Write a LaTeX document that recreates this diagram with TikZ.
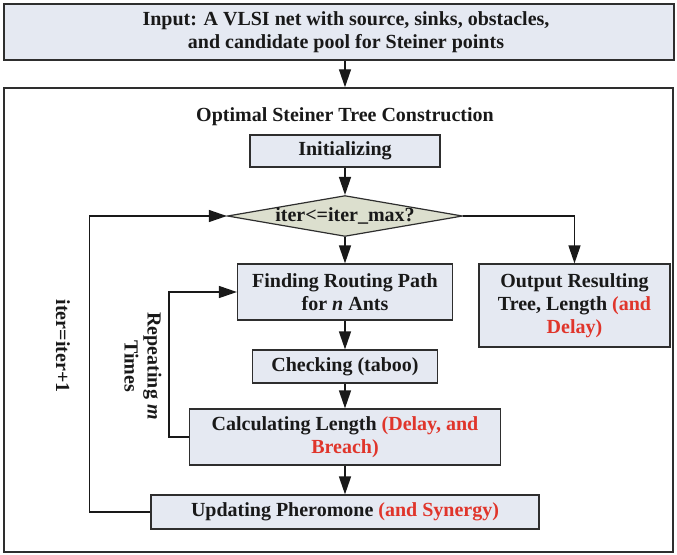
\documentclass[tikz,border=0pt]{standalone}
\usepackage{fontspec}
\setmainfont{Liberation Serif}
\usetikzlibrary{arrows.meta,shapes.geometric}
\definecolor{boxfill}{HTML}{E5E9F2}
\definecolor{decfill}{HTML}{DCDFCE}
\definecolor{redtext}{HTML}{E0352B}
\definecolor{edge}{HTML}{2E2E2E}
\newcommand{\extra}[1]{\textcolor{redtext}{#1}}

\begin{document}
\begin{tikzpicture}[x=0.5pt,y=-0.5pt,
  every node/.style={font=\fontsize{10}{11.5}\selectfont\bfseries, text=black!90},
  box/.style={draw=edge, line width=0.6pt, fill=boxfill, align=center, inner sep=0pt},
  decision/.style={diamond, draw=edge, line width=0.6pt, fill=decfill, aspect=5.75, inner sep=0pt},
  arrow/.style={draw=black!90, line width=0.7pt, -{Triangle[length=9pt,width=6pt]}}]
\useasboundingbox (0,0) rectangle (677,554);
% outer parts
\node[box, line width=0.75pt, minimum width=335pt, minimum height=28pt] (input) at (339,32)
  {\hspace*{7pt}Input: A VLSI net with source, sinks, obstacles,\\\hspace*{7pt}and candidate pool for Steiner points};
\node[draw=edge, line width=0.75pt, minimum width=334.5pt, minimum height=232pt] (frame) at (338.5,320) {};
\node (title) at (345,117) {Optimal Steiner Tree Construction};
% main flow
\node[box, minimum width=95pt, minimum height=16pt] (init) at (345,151) {Initializing};
\node[decision, minimum width=115pt, minimum height=20pt] (cond) at (345,216) {iter<=iter\_max?};
\node[box, minimum width=107.5pt, minimum height=28pt] (route) at (345,292) {Finding Routing Path\\for \textit{n} Ants};
\node[box, minimum width=95.5pt, minimum height=41.5pt] (result) at (574.5,305.5)
  {Output Resulting\\Tree, Length \extra{(and}\\\extra{Delay)}};
\node[box, minimum width=92.5pt, minimum height=16.5pt] (check) at (345,366.5) {Checking (taboo)};
\node[box, minimum width=155.5pt, minimum height=28pt] (calc) at (345,437)
  {Calculating Length \extra{(Delay, and}\\\extra{Breach)}};
\node[box, minimum width=194pt, minimum height=17pt] (update) at (345,512)
  {Updating Pheromone \extra{(and Synergy)}};
% loop labels
\node[rotate=-90] (iterinc) at (63,346) {iter=iter+1};
\node[rotate=-90, align=center] (repeat) at (143,366) {Repeating \textit{m}\\Times};
% connectors
\draw[arrow] (input.south -| init) -- (frame.north -| init);
\draw[arrow] (init) -- (cond);
\draw[arrow] (cond) -- (route);
\draw[arrow] (route) -- (check);
\draw[arrow] (check) -- (calc);
\draw[arrow] (calc) -- (update);
\draw[arrow] (cond.east) -| (result.north);
\draw[arrow] (update.west) -- ++(-61,0) |- (cond.west);
\draw[arrow] (calc.west) -- ++(-20,0) |- (route.west);
\end{tikzpicture}
\end{document}
